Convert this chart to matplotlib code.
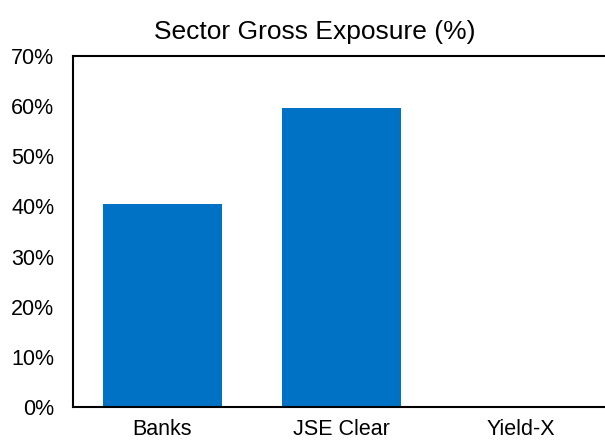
import matplotlib.pyplot as plt
from matplotlib.ticker import PercentFormatter

plt.rcParams['font.family'] = ['Liberation Sans', 'DejaVu Sans']

sectors = ['Banks', 'JSE Clear', 'Yield-X']
exposure = [40.4, 59.6, 0.0]
y_ticks = [0, 10, 20, 30, 40, 50, 60, 70]

fig = plt.figure(figsize=(6.05, 4.41), dpi=100)
ax = fig.add_axes([73 / 605, 1 - 407 / 441, 537 / 605, 351 / 441])

ax.bar(range(len(sectors)), exposure, width=0.665, color='#0072C6')
ax.set_xlim(-0.5, 2.5)
ax.set_ylim(0, 70)
ax.set_yticks(y_ticks)
ax.yaxis.set_major_formatter(PercentFormatter(decimals=0))
ax.set_xticks(range(len(sectors)))
ax.set_xticklabels(sectors)
ax.tick_params(axis='both', length=0, labelsize=15.5)
ax.tick_params(axis='y', pad=13.5)
ax.tick_params(axis='x', pad=8.5)

for side in ['left', 'top', 'bottom']:
    ax.spines[side].set_linewidth(1.5)
ax.spines['right'].set_visible(False)

fig.text(315 / 605, 1 - 39 / 441, 'Sector Gross Exposure (%)', ha='center',
         va='baseline', fontsize=19)

fig.savefig('out.png', dpi=100)
